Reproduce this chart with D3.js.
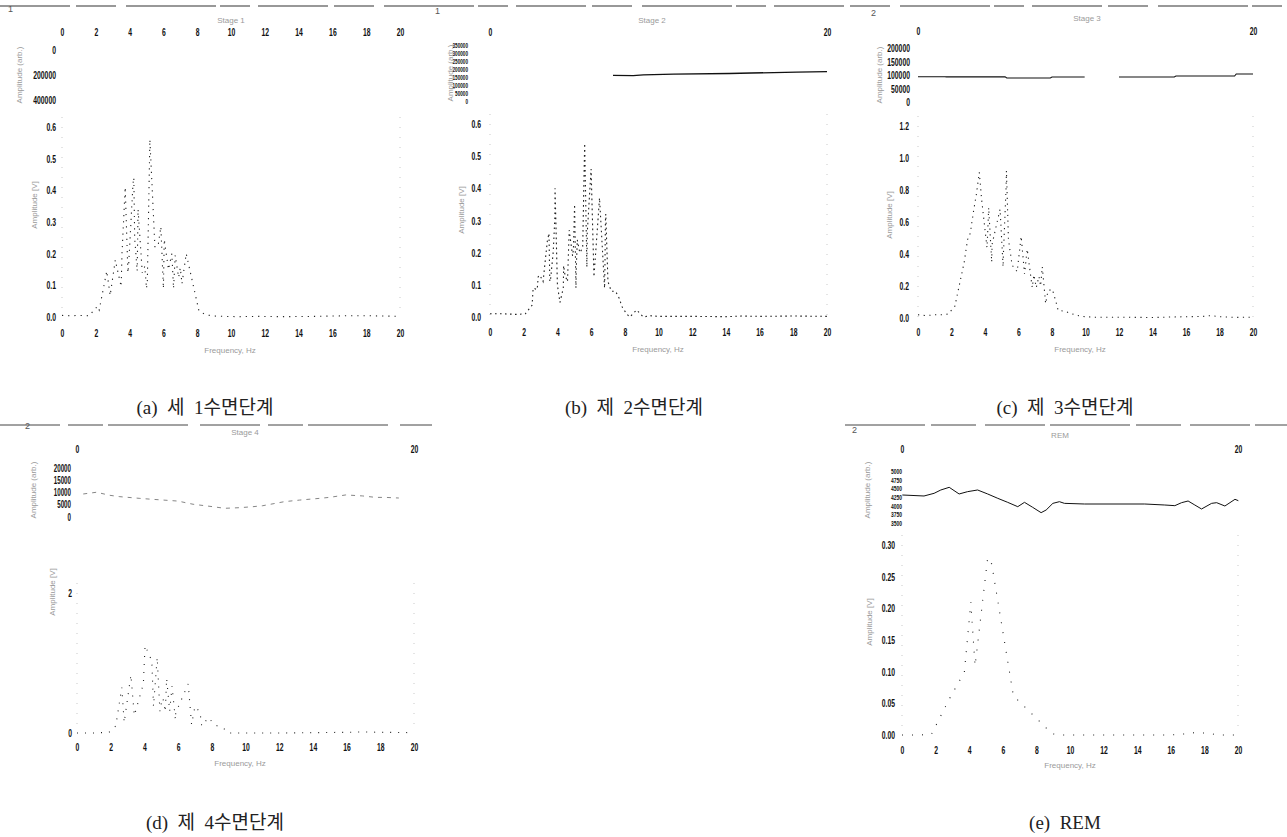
<!DOCTYPE html>
<html>
<head>
<meta charset="utf-8">
<script src="https://cdn.jsdelivr.net/npm/d3@7/dist/d3.min.js"></script>
<style>
  html, body { margin: 0; padding: 0; background: #fff; }
  svg { display: block; }
  .tick text { font-family: "Liberation Sans", "DejaVu Sans", sans-serif;
               font-weight: 700; font-size: 11px; fill: #111; }
  .faint { font-family: "Liberation Sans", sans-serif; font-size: 8px; fill: #9a9a9a; }
  .caption { font-family: "Liberation Serif", "Noto Sans CJK KR", serif; font-size: 19px; fill: #222; white-space: pre; }
  .num { font-family: "Liberation Sans", sans-serif; font-size: 9px; fill: #555; }
</style>
</head>
<body>
<svg id="chart" width="1287" height="837"></svg>
<script>
// ---- Frequency axis ticks ----
const freqTicks = [0, 2, 4, 6, 8, 10, 12, 14, 16, 18, 20];
const freqEnds = [0, 20];

// ---- Stage 1 ----
const freqA = [0, 0.5, 1.0, 1.6, 2.1, 2.2, 2.65, 2.85, 3.1, 3.15, 3.5, 3.55, 3.74, 3.9, 3.95, 4.2, 4.25, 4.3, 4.45, 4.5, 4.75, 4.9, 5.0, 5.05, 5.2, 5.5, 5.7, 5.85, 6.0, 6.02, 6.05, 6.3, 6.5, 6.6, 6.7, 6.9, 7.0, 7.1, 7.35, 8.1, 8.5, 9.0, 9.6, 10.5, 11.5, 13, 15, 16, 17, 18, 19, 20];
const ampA  = [0.005, 0.004, 0.005, 0.004, 0.034, 0.022, 0.145, 0.068, 0.16, 0.18, 0.096, 0.2, 0.41, 0.14, 0.17, 0.42, 0.44, 0.25, 0.145, 0.34, 0.14, 0.16, 0.09, 0.115, 0.56, 0.22, 0.23, 0.285, 0.09, 0.15, 0.245, 0.15, 0.2, 0.09, 0.195, 0.125, 0.155, 0.105, 0.2, 0.02, 0.007, 0.003, 0.002, 0.001, 0.002, 0.001, 0.002, 0.003, 0.004, 0.004, 0.003, 0.002];
const upperTicksA = [0, 200000, 400000];
const ampTicksA = [0, 0.1, 0.2, 0.3, 0.4, 0.5, 0.6];

// ---- Stage 2 ----
const freqB = [0, 0.8, 1.6, 2.1, 2.5, 2.56, 2.8, 2.86, 2.96, 3.15, 3.4, 3.5, 3.55, 3.6, 3.75, 3.85, 3.86, 4.0, 4.15, 4.35, 4.37, 4.45, 4.6, 4.7, 4.9, 4.95, 5.0, 5.02, 5.1, 5.12, 5.18, 5.33, 5.5, 5.6, 5.62, 5.75, 5.77, 6.0, 6.17, 6.5, 6.8, 6.82, 6.85, 6.87, 7.0, 7.2, 7.45, 7.7, 7.8, 8.1, 8.3, 8.7, 9.1, 9.5, 10, 12, 14, 15, 16, 18, 20];
const ampB  = [0.01, 0.01, 0.008, 0.01, 0.037, 0.09, 0.085, 0.125, 0.13, 0.11, 0.235, 0.26, 0.11, 0.12, 0.2, 0.31, 0.40, 0.1, 0.045, 0.09, 0.16, 0.13, 0.11, 0.27, 0.19, 0.21, 0.31, 0.35, 0.09, 0.15, 0.24, 0.2, 0.215, 0.49, 0.54, 0.155, 0.26, 0.46, 0.125, 0.37, 0.09, 0.15, 0.3, 0.32, 0.11, 0.08, 0.08, 0.055, 0.035, 0.01, 0.0, 0.022, 0.0, 0.004, 0.002, 0.002, 0.001, 0.003, 0.002, 0.003, 0.002];
const upperFreqB = [7.3, 8.5, 9.1, 10.9, 14.2, 15.5, 18.2, 20];
const upperValB  = [160000, 158000, 163000, 168000, 172000, 175000, 180000, 183000];
const upperTicksB = [0, 50000, 100000, 150000, 200000, 250000, 300000, 350000];
const ampTicksB = [0, 0.1, 0.2, 0.3, 0.4, 0.5, 0.6];

// ---- Stage 3 ----
const freqC = [0, 0.5, 1.0, 1.5, 1.8, 2.2, 2.76, 2.96, 3.12, 3.32, 3.48, 3.66, 3.8, 4.12, 4.14, 4.22, 4.4, 4.42, 4.9, 5.08, 5.1, 5.26, 5.28, 5.4, 5.62, 5.92, 6.16, 6.36, 6.52, 6.82, 6.92, 7.06, 7.22, 7.32, 7.42, 7.62, 7.76, 8.02, 8.32, 8.36, 8.76, 9.36, 9.76, 10.5, 12, 14, 15, 16, 17, 17.5, 18, 19, 20];
const ampC  = [0.02, 0.015, 0.02, 0.02, 0.025, 0.073, 0.35, 0.49, 0.53, 0.67, 0.77, 0.91, 0.74, 0.44, 0.48, 0.69, 0.35, 0.46, 0.68, 0.32, 0.4, 0.82, 0.92, 0.49, 0.33, 0.29, 0.51, 0.275, 0.43, 0.19, 0.27, 0.19, 0.26, 0.2, 0.32, 0.09, 0.17, 0.18, 0.07, 0.048, 0.042, 0.02, 0.01, 0.005, 0.005, 0.003, 0.006, 0.008, 0.01, 0.015, 0.008, 0.004, 0.005];
const upperFreqC = [0, 1.6, 1.7, 5.2, 5.3, 7.9, 8.0, 9.95, 11.0, 12.0, 15.3, 15.4, 18.9, 19.0, 20];
const upperValC  = [93700, 93700, 93000, 93000, 88900, 88900, 92600, 92600, NaN, 92600, 92600, 96300, 96300, 103700, 103700];
const upperTicksC = [0, 50000, 100000, 150000, 200000];
const ampTicksC = [0, 0.2, 0.4, 0.6, 0.8, 1.0, 1.2];

// ---- Stage 4 ----
const freqD = [0, 1, 1.9, 2.3, 2.66, 2.8, 3.2, 3.4, 3.94, 3.96, 4.04, 4.44, 4.54, 4.76, 4.92, 4.94, 5.1, 5.24, 5.32, 5.5, 5.64, 5.84, 5.86, 6.6, 6.8, 7.0, 7.3, 7.4, 7.8, 8.16, 8.8, 9.0, 10, 12, 14, 16, 17, 18, 20];
const ampD  = [0.0, 0.0, 0.01, 0.1, 0.65, 0.15, 0.83, 0.25, 0.70, 0.83, 1.25, 1.03, 0.38, 1.08, 0.31, 0.37, 0.5, 0.3, 0.78, 0.31, 0.67, 0.19, 0.29, 0.7, 0.12, 0.38, 0.3, 0.1, 0.22, 0.12, 0.05, 0.0, 0.0, 0.0, 0.005, 0.01, 0.015, 0.01, 0.005];
const upperFreqD = [0.37, 1.16, 1.95, 2.54, 3.73, 4.52, 5.99, 6.89, 8.07, 8.76, 9.64, 10.43, 11.02, 12.3, 13.2, 14.38, 14.97, 15.95, 16.94, 17.73, 18.32, 19.1];
const upperValD  = [9400, 10100, 8850, 8300, 7600, 7200, 6500, 5200, 4200, 3550, 3800, 4200, 4600, 6250, 6900, 7600, 8000, 9000, 8600, 8000, 8000, 7750];
const upperTicksD = [0, 5000, 10000, 15000, 20000];
const ampTicksD = [0, 2];

// ---- REM ----
const freqE = [0, 1, 1.75, 2.86, 3.71, 4.1, 4.12, 4.35, 5.1, 5.34, 6.63, 8.4, 8.9, 9.5, 10, 12, 14, 16, 17, 17.5, 18, 19, 20];
const ampE  = [0.0, 0.0, 0.001, 0.059, 0.099, 0.21, 0.20, 0.109, 0.28, 0.27, 0.062, 0.016, 0.002, 0.0, 0.0, 0.0, 0.0, 0.0, 0.002, 0.004, 0.003, 0.0, 0.0];
const upperFreqE = [0.02, 1.31, 1.91, 2.31, 2.81, 3.4, 3.9, 4.5, 5.1, 5.7, 6.29, 6.89, 7.29, 7.78, 8.28, 8.58, 8.98, 9.37, 9.67, 10.87, 14.45, 15.64, 16.24, 16.64, 17.03, 17.43, 17.83, 18.43, 18.73, 19.22, 19.82, 20.02];
const upperValE  = [4308, 4279, 4356, 4452, 4529, 4337, 4404, 4452, 4337, 4212, 4096, 3971, 4096, 3952, 3798, 3875, 4067, 4115, 4067, 4048, 4048, 4019, 4000, 4086, 4135, 4019, 3904, 4067, 4086, 3990, 4183, 4144];
const upperTicksE = [3500, 3750, 4000, 4250, 4500, 4750, 5000];
const ampTicksE = [0, 0.05, 0.1, 0.15, 0.2, 0.25, 0.3];

const zip = (fs, vs) => fs.map((f, i) => ({ f, v: vs[i] }));

const svg = d3.select("#chart");

// rule lines heading each row of panels
svg.append("line").attr("x1", 0).attr("x2", 1287).attr("y1", 6).attr("y2", 6)
  .attr("stroke", "#333").attr("stroke-width", 1.2).attr("stroke-dasharray", "70,6,40,10,90,4,30,8");
svg.append("line").attr("x1", 0).attr("x2", 432).attr("y1", 425).attr("y2", 425)
  .attr("stroke", "#444").attr("stroke-width", 1).attr("stroke-dasharray", "60,8,35,5,80,12");
svg.append("line").attr("x1", 845).attr("x2", 1287).attr("y1", 425).attr("y2", 425)
  .attr("stroke", "#444").attr("stroke-width", 1).attr("stroke-dasharray", "80,6,45,9,60,5");

const panels = [
  { num: "1", numPos: [8, 12], title: "Stage 1", titlePos: [231, 23],
    x: [62, 400], topY: 33, topTicks: freqTicks, botY: 334,
    up: { domain: [0, 400000], range: [50, 100], ticks: upperTicksA, fmt: d3.format("d"), labX: 56, fs: 11 },
    lo: { domain: [0, 0.6], range: [317, 127], ticks: ampTicksA, fmt: d3.format(".1f"), labX: 56 },
    spec: zip(freqA, ampA), dash: "1.2,5", upperLine: null,
    yTitleUp: [22, 75], yTitleLo: [37, 205], xTitle: [230, 353],
    caption: "(a)  세  1수면단계", capPos: [205, 414] },
  { num: "1", numPos: [435, 14], title: "Stage 2", titlePos: [652, 23],
    x: [490, 827], topY: 33, topTicks: freqEnds, botY: 333,
    up: { domain: [0, 350000], range: [101, 45], ticks: upperTicksB, fmt: d3.format("d"), labX: 468, fs: 7.5 },
    lo: { domain: [0, 0.6], range: [317, 124], ticks: ampTicksB, fmt: d3.format(".1f"), labX: 481 },
    spec: zip(freqB, ampB), dash: "1.6,3.4", upperLine: { data: zip(upperFreqB, upperValB), w: 1.3, dash: null },
    yTitleUp: [453, 73], yTitleLo: [464, 210], xTitle: [658, 352],
    caption: "(b)  제  2수면단계", capPos: [634, 414] },
  { num: "2", numPos: [871, 16], title: "Stage 3", titlePos: [1087, 21],
    x: [918, 1253], topY: 32, topTicks: freqEnds, botY: 333,
    up: { domain: [0, 200000], range: [102, 48], ticks: upperTicksC, fmt: d3.format("d"), labX: 910, fs: 11 },
    lo: { domain: [0, 1.2], range: [318, 126], ticks: ampTicksC, fmt: d3.format(".1f"), labX: 909 },
    spec: zip(freqC, ampC), dash: "1.2,4.5", upperLine: { data: zip(upperFreqC, upperValC), w: 1.1, dash: null },
    yTitleUp: [882, 75], yTitleLo: [892, 215], xTitle: [1080, 352],
    caption: "(c)  제  3수면단계", capPos: [1065, 414] },
  { num: "2", numPos: [25, 429], title: "Stage 4", titlePos: [245, 435],
    x: [77, 414], topY: 450, topTicks: freqEnds, botY: 748,
    up: { domain: [0, 20000], range: [517, 468], ticks: upperTicksD, fmt: d3.format("d"), labX: 71, fs: 10 },
    lo: { domain: [0, 2], range: [733, 593], ticks: ampTicksD, fmt: d3.format("d"), labX: 72 },
    spec: zip(freqD, ampD), dash: "1,7", upperLine: { data: zip(upperFreqD, upperValD), w: 0.8, dash: "4,5" },
    yTitleUp: [36, 490], yTitleLo: [55, 592], xTitle: [240, 766],
    caption: "(d)  제  4수면단계", capPos: [215, 829] },
  { num: "2", numPos: [852, 433], title: "REM", titlePos: [1060, 438],
    x: [902, 1238], topY: 450, topTicks: freqEnds, botY: 751,
    up: { domain: [3500, 5000], range: [523, 471], ticks: upperTicksE, fmt: d3.format("d"), labX: 902, fs: 8 },
    lo: { domain: [0, 0.3], range: [735, 545], ticks: ampTicksE, fmt: d3.format(".2f"), labX: 895 },
    spec: zip(freqE, ampE), dash: "1,9", upperLine: { data: zip(upperFreqE, upperValE), w: 1, dash: null },
    yTitleUp: [870, 490], yTitleLo: [872, 622], xTitle: [1070, 768],
    caption: "(e)  REM", capPos: [1065, 829] }
];

// tall, narrow tick lettering
const squeeze = sel => sel.selectAll(".tick text").attr("transform", "scale(0.62,1)");

panels.forEach(p => {
  const g = svg.append("g");
  const x = d3.scaleLinear().domain([0, 20]).range(p.x);
  const yU = d3.scaleLinear().domain(p.up.domain).range(p.up.range);
  const yL = d3.scaleLinear().domain(p.lo.domain).range(p.lo.range);

  // frequency labels above and below
  const topAx = g.append("g").attr("transform", `translate(0,${p.topY - 5})`)
    .call(d3.axisBottom(x).tickValues(p.topTicks).tickFormat(d3.format("d")).tickSize(0).tickPadding(0));
  const botAx = g.append("g").attr("transform", `translate(0,${p.botY - 5})`)
    .call(d3.axisBottom(x).tickValues(freqTicks).tickFormat(d3.format("d")).tickSize(0).tickPadding(0));

  // amplitude axes
  const upAx = g.append("g").attr("transform", `translate(${p.up.labX},0)`)
    .call(d3.axisLeft(yU).tickValues(p.up.ticks).tickFormat(p.up.fmt).tickSize(0).tickPadding(0));
  upAx.selectAll(".tick text").style("font-size", p.up.fs + "px");
  const loAx = g.append("g").attr("transform", `translate(${p.lo.labX},0)`)
    .call(d3.axisLeft(yL).tickValues(p.lo.ticks).tickFormat(p.lo.fmt).tickSize(0).tickPadding(0));
  [topAx, botAx, upAx, loAx].forEach(a => { a.select(".domain").remove(); squeeze(a); });

  // faded frame edges of the spectrum plot
  [p.x[0], p.x[1]].forEach(px => {
    g.append("line").attr("x1", px).attr("x2", px)
      .attr("y1", p.lo.range[1] - 10).attr("y2", p.lo.range[0])
      .attr("stroke", "#bbb").attr("stroke-width", 0.8).attr("stroke-dasharray", "1,9");
  });

  // upper trace
  if (p.upperLine) {
    const line = d3.line().defined(d => !isNaN(d.v)).x(d => x(d.f)).y(d => yU(d.v));
    g.append("path").datum(p.upperLine.data).attr("d", line)
      .attr("fill", "none").attr("stroke", p.upperLine.dash ? "#666" : "#111")
      .attr("stroke-width", p.upperLine.w)
      .attr("stroke-dasharray", p.upperLine.dash);
  }

  // amplitude spectrum
  const spec = d3.line().x(d => x(d.f)).y(d => yL(d.v));
  g.append("path").datum(p.spec).attr("d", spec)
    .attr("fill", "none").attr("stroke", "#222").attr("stroke-width", 1.1)
    .attr("stroke-dasharray", p.dash);

  // faint titles
  g.append("text").attr("class", "faint").attr("x", p.titlePos[0]).attr("y", p.titlePos[1])
    .attr("text-anchor", "middle").text(p.title);
  g.append("text").attr("class", "faint").attr("x", p.xTitle[0]).attr("y", p.xTitle[1])
    .attr("text-anchor", "middle").text("Frequency, Hz");
  g.append("text").attr("class", "faint")
    .attr("transform", `translate(${p.yTitleUp[0]},${p.yTitleUp[1]}) rotate(-90)`)
    .attr("text-anchor", "middle").text("Amplitude (arb.)");
  g.append("text").attr("class", "faint")
    .attr("transform", `translate(${p.yTitleLo[0]},${p.yTitleLo[1]}) rotate(-90)`)
    .attr("text-anchor", "middle").text("Amplitude [V]");
  g.append("text").attr("class", "num").attr("x", p.numPos[0]).attr("y", p.numPos[1]).text(p.num);

  // caption
  g.append("text").attr("class", "caption").attr("x", p.capPos[0]).attr("y", p.capPos[1])
    .attr("text-anchor", "middle").text(p.caption);
});
</script>
</body>
</html>
